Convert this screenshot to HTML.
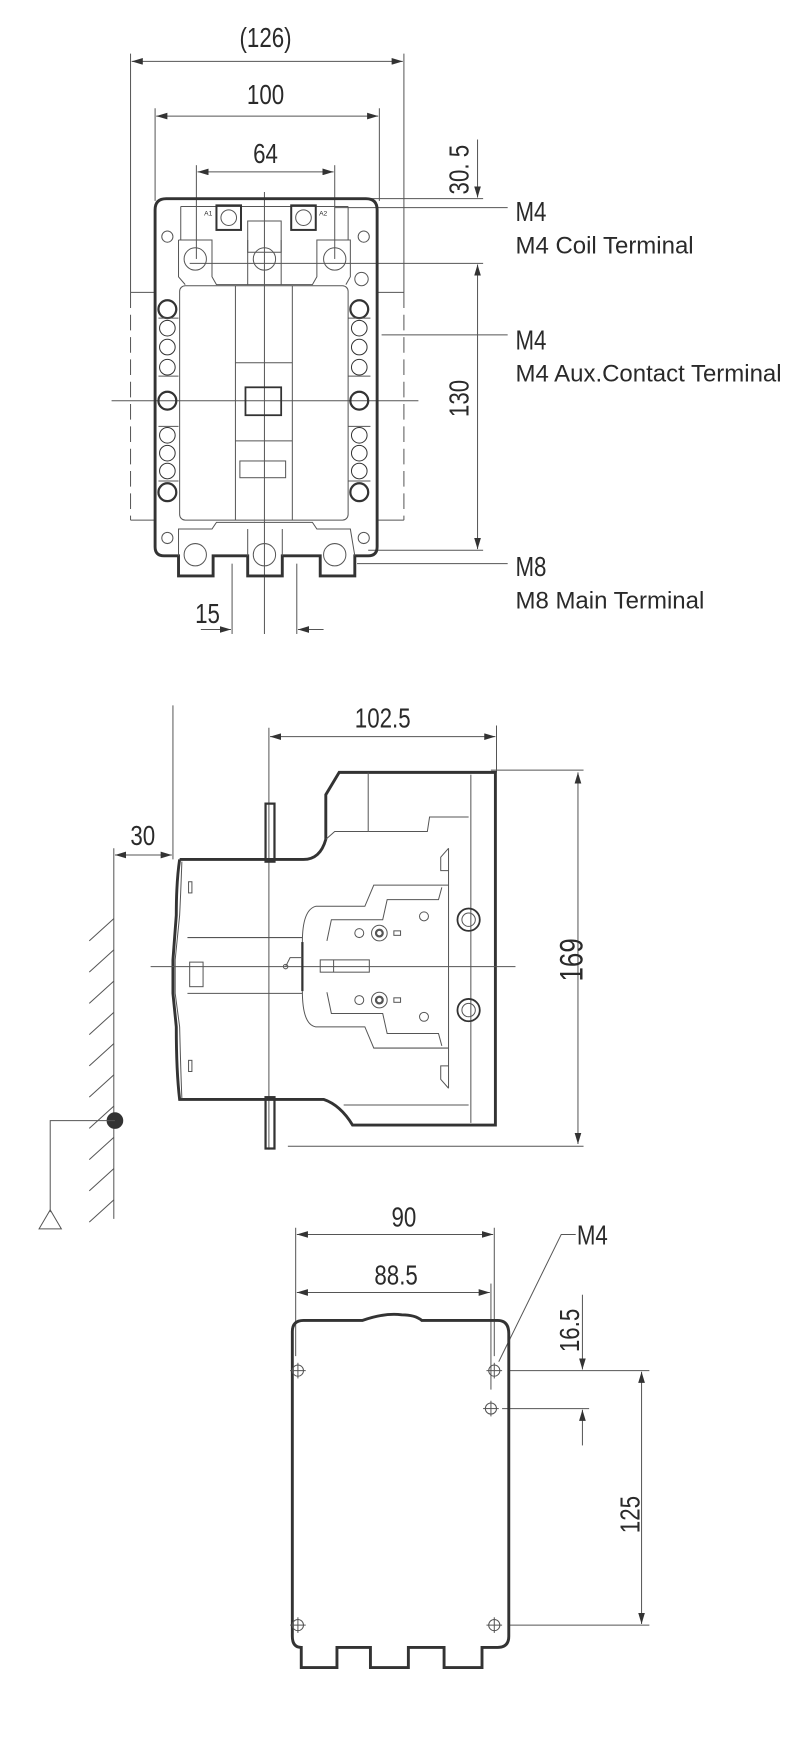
<!DOCTYPE html>
<html><head><meta charset="utf-8"><style>
html,body{margin:0;padding:0;background:#fff;}
svg{display:block;}
text{font-family:"Liberation Sans",sans-serif;fill:#2a2a2a;}
</style></head><body>
<svg width="800" height="1749" viewBox="0 0 717 1567" preserveAspectRatio="none" xmlns="http://www.w3.org/2000/svg">
<defs>
<marker id="a" viewBox="0 0 10 6" refX="10" refY="3" markerWidth="10" markerHeight="6" orient="auto-start-reverse" markerUnits="userSpaceOnUse"><path d="M0,0 L10,3 L0,6 z" fill="#333"/></marker>
</defs>
<g fill="none" stroke="#555" stroke-width="0.9">
<line x1="117" y1="48" x2="117" y2="262"/><line x1="362" y1="48" x2="362" y2="262"/>
<line x1="118" y1="55" x2="361" y2="55" marker-start="url(#a)" marker-end="url(#a)"/>
<line x1="139" y1="97" x2="139" y2="180"/><line x1="340" y1="97" x2="340" y2="180"/>
<line x1="140" y1="104" x2="339" y2="104" marker-start="url(#a)" marker-end="url(#a)"/>
<line x1="176" y1="148" x2="176" y2="232"/><line x1="300" y1="148" x2="300" y2="232"/>
<line x1="177" y1="154" x2="299" y2="154" marker-start="url(#a)" marker-end="url(#a)"/>
<line x1="428" y1="125" x2="428" y2="177" marker-end="url(#a)"/>
<line x1="428" y1="237" x2="428" y2="492" marker-start="url(#a)" marker-end="url(#a)"/>
<line x1="320" y1="178" x2="433" y2="178"/>
<line x1="300" y1="186" x2="455" y2="186"/>
<line x1="170" y1="236" x2="433" y2="236"/>
<line x1="330" y1="493" x2="433" y2="493"/>
<line x1="342" y1="300" x2="455" y2="300"/>
<line x1="320" y1="505" x2="455" y2="505"/>
<g stroke-dasharray="14,6"><line x1="117" y1="262" x2="117" y2="466"/><line x1="362" y1="262" x2="362" y2="466"/></g>
<line x1="117" y1="262" x2="139" y2="262"/><line x1="338" y1="262" x2="362" y2="262"/>
<line x1="117" y1="466" x2="139" y2="466"/><line x1="338" y1="466" x2="362" y2="466"/>
<line x1="100" y1="359" x2="375" y2="359"/>
<line x1="237" y1="172" x2="237" y2="568"/>
<line x1="208" y1="505" x2="208" y2="568"/><line x1="266" y1="505" x2="266" y2="568"/>
<line x1="180" y1="564" x2="207" y2="564" marker-end="url(#a)"/>
<line x1="290" y1="564" x2="267" y2="564" marker-end="url(#a)"/>
<path d="M139,188 Q139,178 149,178 L328,178 Q338,178 338,188 L338,490 Q338,498 330,498 L318,498 L318,516 L287,516 L287,498 L253,498 L253,516 L222,516 L222,498 L191,498 L191,516 L160,516 L160,498 L147,498 Q139,498 139,490 Z" stroke="#333" stroke-width="2.6"/>
<line x1="162" y1="185" x2="162" y2="215"/><line x1="312" y1="185" x2="312" y2="215"/>
<line x1="162" y1="185" x2="312" y2="185"/>
<rect x="194" y="184" width="22" height="22" stroke="#333" stroke-width="1.8"/>
<rect x="261" y="184" width="22" height="22" stroke="#333" stroke-width="1.8"/>
<circle cx="205" cy="195" r="7"/><circle cx="272" cy="195" r="7"/>
<rect x="222" y="198" width="30" height="28"/>
<path d="M160,215 L190,215 L190,248 L194,255 L280,255 L284,248 L284,215 L314,215 L314,248 L310,255"/>
<path d="M160,215 L160,248 L166,255"/>
<line x1="222" y1="215" x2="222" y2="255"/><line x1="252" y1="215" x2="252" y2="255"/>
<circle cx="175" cy="232" r="10"/><circle cx="237" cy="232" r="10"/><circle cx="300" cy="232" r="10"/>
<circle cx="150" cy="212" r="5"/><circle cx="326" cy="212" r="5"/><circle cx="324" cy="250" r="6"/>
<rect x="161" y="256" width="151" height="210" rx="5"/>
<line x1="211" y1="256" x2="211" y2="466"/><line x1="262" y1="256" x2="262" y2="466"/>
<line x1="211" y1="325" x2="262" y2="325"/><line x1="211" y1="395" x2="262" y2="395"/>
<rect x="220" y="347" width="32" height="25" stroke="#333" stroke-width="1.6"/>
<rect x="215" y="413" width="41" height="15"/>
<path d="M160,498 L160,474 L190,474 L194,468 L280,468 L284,474 L314,474 L318,498"/>
<line x1="222" y1="474" x2="222" y2="498"/><line x1="253" y1="474" x2="253" y2="498"/>
<circle cx="175" cy="497" r="10"/><circle cx="237" cy="497" r="10"/><circle cx="300" cy="497" r="10"/>
<circle cx="150" cy="482" r="5"/><circle cx="326" cy="482" r="5"/>
<g stroke="#333">
<circle cx="150" cy="277" r="8" stroke-width="2"/><circle cx="150" cy="294" r="7"/><circle cx="150" cy="311" r="7"/><circle cx="150" cy="329" r="7"/>
<circle cx="150" cy="359" r="8" stroke-width="2"/><circle cx="150" cy="390" r="7"/><circle cx="150" cy="406" r="7"/><circle cx="150" cy="422" r="7"/><circle cx="150" cy="441" r="8" stroke-width="2"/>
<circle cx="322" cy="277" r="8" stroke-width="2"/><circle cx="322" cy="294" r="7"/><circle cx="322" cy="311" r="7"/><circle cx="322" cy="329" r="7"/>
<circle cx="322" cy="359" r="8" stroke-width="2"/><circle cx="322" cy="390" r="7"/><circle cx="322" cy="406" r="7"/><circle cx="322" cy="422" r="7"/><circle cx="322" cy="441" r="8" stroke-width="2"/>
</g>
<line x1="142" y1="285" x2="160" y2="285"/><line x1="142" y1="337" x2="160" y2="337"/><line x1="142" y1="382" x2="160" y2="382"/><line x1="142" y1="431" x2="160" y2="431"/>
<line x1="312" y1="285" x2="332" y2="285"/><line x1="312" y1="337" x2="332" y2="337"/><line x1="312" y1="382" x2="332" y2="382"/><line x1="312" y1="431" x2="332" y2="431"/>

<line x1="155" y1="632" x2="155" y2="770"/>
<line x1="241" y1="652" x2="241" y2="1030"/>
<line x1="445" y1="650" x2="445" y2="692"/>
<line x1="242" y1="660" x2="444" y2="660" marker-start="url(#a)" marker-end="url(#a)"/>
<line x1="102" y1="760" x2="102" y2="1092"/>
<line x1="103" y1="766" x2="154" y2="766" marker-start="url(#a)" marker-end="url(#a)"/>
<g>
<line x1="80" y1="843" x2="102" y2="823"/><line x1="80" y1="871" x2="102" y2="851"/><line x1="80" y1="899" x2="102" y2="879"/><line x1="80" y1="927" x2="102" y2="907"/><line x1="80" y1="955" x2="102" y2="935"/><line x1="80" y1="983" x2="102" y2="963"/><line x1="80" y1="1011" x2="102" y2="991"/><line x1="80" y1="1039" x2="102" y2="1019"/><line x1="80" y1="1067" x2="102" y2="1047"/><line x1="80" y1="1095" x2="102" y2="1075"/>
</g>
<circle cx="103" cy="1004" r="7" fill="#333" stroke="#333"/>
<polyline points="103,1004 45,1004 45,1086"/>
<path d="M35,1101 L45,1084 L55,1101 Z"/>
<line x1="440" y1="690" x2="523" y2="690"/>
<line x1="258" y1="1027" x2="523" y2="1027"/>
<line x1="518" y1="692" x2="518" y2="1025" marker-start="url(#a)" marker-end="url(#a)"/>
<path d="M161,770 L272,770 Q287,770 292,752 L292,712 L304,692 L444,692 L444,1008 L316,1008 Q305,990 290,985 L272,985 L249,985 M249,985 L161,985 Q158,960 158,920 L155,890 L155,860 L158,820 Q158,790 161,770" stroke="#333" stroke-width="2.6"/>
<path d="M163,772 Q162,800 161,820 L157,860 L157,890 L161,920 Q162,960 163,984"/>
<rect x="238" y="720" width="8" height="52" stroke="#333" stroke-width="2"/>
<rect x="238" y="983" width="8" height="46" stroke="#333" stroke-width="2"/>
<line x1="422" y1="694" x2="422" y2="1006"/>
<line x1="330" y1="692" x2="330" y2="745"/>
<path d="M330,745 L383,745 L385,732 L420,732"/>
<path d="M292,752 L300,745 L330,745"/>
<path d="M308,990 L420,990"/>
<line x1="168" y1="840" x2="271" y2="840"/><line x1="168" y1="890" x2="271" y2="890"/>
<rect x="170" y="862" width="12" height="22"/>
<rect x="169" y="790" width="3" height="10"/><rect x="169" y="950" width="3" height="10"/>
<line x1="135" y1="866" x2="462" y2="866"/>
<line x1="271" y1="844" x2="271" y2="888" stroke="#333" stroke-width="2"/>
<path d="M271,844 Q271,815 283,812 L327,812 L335,793 L402,793"/>
<path d="M271,888 Q271,918 283,920 L327,920 L335,939 L402,939"/>
<path d="M293,843 L297,824 L343,824 L347,806 L393,806 L396,795"/>
<path d="M293,889 L297,908 L343,908 L347,926 L393,926 L396,937"/>
<line x1="402" y1="760" x2="402" y2="975"/>
<path d="M402,760 L395,768 L395,780 L402,780"/><path d="M402,975 L395,967 L395,955 L402,955"/>
<circle cx="420" cy="824" r="10" stroke="#333" stroke-width="1.6"/><circle cx="420" cy="824" r="6"/>
<circle cx="420" cy="905" r="10" stroke="#333" stroke-width="1.6"/><circle cx="420" cy="905" r="6"/>
<circle cx="340" cy="836" r="7"/><circle cx="340" cy="836" r="3" stroke-width="2"/>
<circle cx="340" cy="896" r="7"/><circle cx="340" cy="896" r="3" stroke-width="2"/>
<circle cx="322" cy="836" r="4"/><circle cx="322" cy="896" r="4"/>
<circle cx="380" cy="821" r="4"/><circle cx="380" cy="911" r="4"/>
<rect x="353" y="834" width="6" height="4"/><rect x="353" y="894" width="6" height="4"/>
<rect x="287" y="860" width="44" height="11"/><line x1="299" y1="860" x2="299" y2="871"/>
<path d="M256,866 L260,858 L271,858"/><circle cx="256" cy="866" r="2"/>

<line x1="265" y1="1100" x2="265" y2="1215"/>
<line x1="443" y1="1100" x2="443" y2="1215"/>
<line x1="440" y1="1150" x2="440" y2="1245"/>
<line x1="266" y1="1106" x2="442" y2="1106" marker-start="url(#a)" marker-end="url(#a)"/>
<line x1="266" y1="1158" x2="439" y2="1158" marker-start="url(#a)" marker-end="url(#a)"/>
<path d="M447,1220 L503,1106 L516,1106"/>
<line x1="455" y1="1228" x2="582" y2="1228"/>
<line x1="450" y1="1262" x2="528" y2="1262"/>
<line x1="455" y1="1456" x2="582" y2="1456"/>
<line x1="522" y1="1160" x2="522" y2="1227" marker-end="url(#a)"/>
<line x1="522" y1="1295" x2="522" y2="1263" marker-end="url(#a)"/>
<line x1="575" y1="1229" x2="575" y2="1455" marker-start="url(#a)" marker-end="url(#a)"/>
<path d="M262,1193 Q262,1183 272,1183 L325,1183 Q345,1176 360,1178 Q372,1178 378,1183 L446,1183 Q456,1183 456,1195 L456,1466 Q456,1476 446,1476 L432,1476 L432,1494 L398,1494 L398,1476 L366,1476 L366,1494 L332,1494 L332,1476 L302,1476 L302,1494 L270,1494 L270,1476 Q262,1476 262,1466 Z" stroke="#333" stroke-width="2.6"/>
<g>
<circle cx="267" cy="1228" r="5"/><line x1="260" y1="1228" x2="274" y2="1228"/><line x1="267" y1="1221" x2="267" y2="1235"/>
<circle cx="443" cy="1228" r="5"/><line x1="436" y1="1228" x2="450" y2="1228"/><line x1="443" y1="1221" x2="443" y2="1235"/>
<circle cx="440" cy="1262" r="5"/><line x1="433" y1="1262" x2="447" y2="1262"/><line x1="440" y1="1255" x2="440" y2="1269"/>
<circle cx="267" cy="1456" r="5"/><line x1="260" y1="1456" x2="274" y2="1456"/><line x1="267" y1="1449" x2="267" y2="1463"/>
<circle cx="443" cy="1456" r="5"/><line x1="436" y1="1456" x2="450" y2="1456"/><line x1="443" y1="1449" x2="443" y2="1463"/>
</g>
</g>

<text x="183" y="193" font-size="6">A1</text><text x="286" y="193" font-size="6">A2</text>
<g font-size="25" text-anchor="middle">
<text x="238" y="42" transform="translate(238 0) scale(0.8 1) translate(-238 0)">(126)</text>
<text x="238" y="93" transform="translate(238 0) scale(0.8 1) translate(-238 0)">100</text>
<text x="238" y="146" transform="translate(238 0) scale(0.8 1) translate(-238 0)">64</text>
<text x="186" y="558" transform="translate(186 0) scale(0.8 1) translate(-186 0)">15</text>
<text x="343" y="652" transform="translate(343 0) scale(0.8 1) translate(-343 0)">102.5</text>
<text x="128" y="757" transform="translate(128 0) scale(0.8 1) translate(-128 0)">30</text>
<text x="362" y="1099" transform="translate(362 0) scale(0.8 1) translate(-362 0)">90</text>
<text x="355" y="1151" transform="translate(355 0) scale(0.8 1) translate(-355 0)">88.5</text>
<text transform="translate(420 152) rotate(-90) scale(0.8 1)">30. 5</text>
<text transform="translate(420 357) rotate(-90) scale(0.8 1)">130</text>
<text transform="translate(522 860) rotate(-90) scale(0.8 1)" font-size="29">169</text>
<text transform="translate(519 1192) rotate(-90) scale(0.8 1)">16.5</text>
<text transform="translate(573 1357) rotate(-90) scale(0.8 1)">125</text>
</g>
<g font-size="25">
<text x="462" y="198" transform="translate(462 0) scale(0.8 1) translate(-462 0)">M4</text>
<text x="462" y="313" transform="translate(462 0) scale(0.8 1) translate(-462 0)">M4</text>
<text x="462" y="516" transform="translate(462 0) scale(0.8 1) translate(-462 0)">M8</text>
<text x="517" y="1115" transform="translate(517 0) scale(0.8 1) translate(-517 0)">M4</text>
</g>
<g font-size="21.5">
<text x="462" y="227">M4 Coil Terminal</text>
<text x="462" y="342">M4 Aux.Contact Terminal</text>
<text x="462" y="545">M8 Main Terminal</text>
</g>
</svg>
</body></html>
